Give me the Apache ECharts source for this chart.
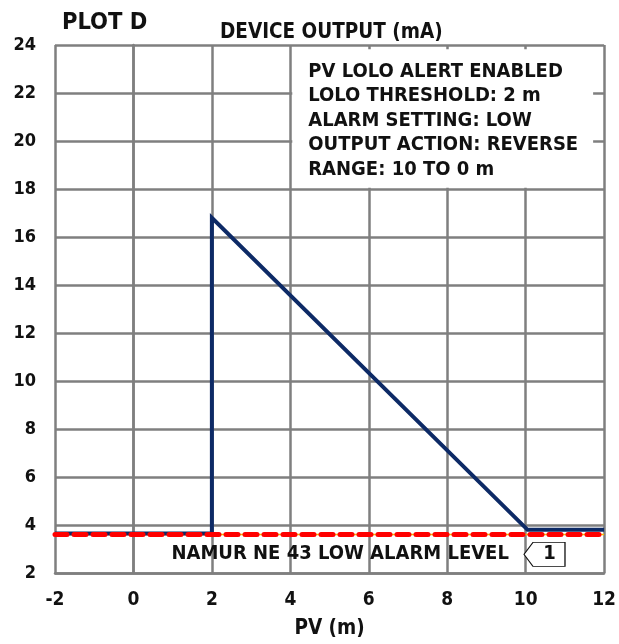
<!DOCTYPE html>
<html>
<head>
<meta charset="utf-8">
<style>html,body{margin:0;padding:0;background:#fff;}#chart{width:619px;height:644px;}</style>
<script src="https://cdn.jsdelivr.net/npm/echarts@6/dist/echarts.min.js"></script>
</head>
<body>
<div id="chart"></div>
<script>
// ---- data ----
const pvValues = [-2, 2, 2, 10.05, 12];
const outputValues = [3.65, 3.65, 16.8, 3.8, 3.8];
const namurX = [-2, 12];
const namurY = [3.6, 3.6];
const xTicks = [-2, 0, 2, 4, 6, 8, 10, 12];
const yTicks = [2, 4, 6, 8, 10, 12, 14, 16, 18, 20, 22, 24];
const infoLines = ['PV LOLO ALERT ENABLED', 'LOLO THRESHOLD: 2 m', 'ALARM SETTING: LOW', 'OUTPUT ACTION: REVERSE', 'RANGE: 10 TO 0 m'];
const infoBox = [[4.05, 18.05], [11.72, 23.82]];
const infoTextPos = [4.47, 23.38];
const namurLabel = 'NAMUR NE 43 LOW ALARM LEVEL';
const namurLabelPos = [5.27, 2.78];
const calloutPos = [10.48, 2.78];

const FONT = "'Liberation Sans Narrow', 'DejaVu Sans Condensed', 'Liberation Sans', sans-serif";
const GRID = '#7f7f7f';

const chart = echarts.init(document.getElementById('chart'));
chart.setOption({
  animation: false,
  backgroundColor: '#fff',
  textStyle: { fontFamily: FONT },
  title: [
    { text: 'PLOT D', left: 57, top: 6, textStyle: { fontFamily: FONT, fontWeight: 'bold', fontSize: 23.5, color: '#111' } },
    { text: 'DEVICE OUTPUT (mA)', left: 215, top: 17, textStyle: { fontFamily: FONT, fontWeight: 'bold', fontSize: 20.5, color: '#111' } }
  ],
  grid: { left: 55, right: 11, top: 45, bottom: 63 },
  xAxis: {
    type: 'value', min: xTicks[0], max: xTicks[xTicks.length - 1], interval: 2,
    name: 'PV (m)', nameLocation: 'middle', nameGap: 45,
    nameTextStyle: { fontFamily: FONT, fontWeight: 'bold', fontSize: 20.5, color: '#111' },
    axisLine: { show: true, lineStyle: { color: GRID, width: 2.5 } },
    axisTick: { show: false },
    axisLabel: { margin: 18, fontFamily: FONT, fontWeight: 'bold', fontSize: 19, color: '#111' },
    splitLine: { show: true, lineStyle: { color: GRID, width: 2.5 } }
  },
  yAxis: {
    type: 'value', min: yTicks[0], max: yTicks[yTicks.length - 1], interval: 2,
    axisLine: { show: true, lineStyle: { color: GRID, width: 2.5 } },
    axisTick: { show: false },
    axisLabel: { margin: 19, fontFamily: FONT, fontWeight: 'bold', fontSize: 18, color: '#111' },
    splitLine: { show: true, lineStyle: { color: GRID, width: 2.5 } }
  },
  series: [
    {
      type: 'line', name: 'box', data: [[infoTextPos[0], infoTextPos[1]]], silent: true,
      symbol: 'none', lineStyle: { width: 0 }, z: 2,
      markArea: {
        silent: true,
        itemStyle: { color: '#fff', borderWidth: 0 },
        data: [[{ coord: infoBox[0] }, { coord: infoBox[1] }]]
      },
      markPoint: {
        silent: true,
        data: [{
          coord: infoTextPos, symbol: 'rect', symbolSize: 1, itemStyle: { color: 'rgba(0,0,0,0)' },
          label: {
            show: true, position: [0, 0], align: 'left', verticalAlign: 'top',
            formatter: infoLines.join('\n'), lineHeight: 24.5,
            fontFamily: FONT, fontWeight: 'bold', fontSize: 20, color: '#111'
          }
        }]
      }
    },
    {
      type: 'line', name: 'yellow', data: namurX.map((x, i) => [x, namurY[i]]),
      symbol: 'none', z: 3, lineStyle: { color: '#f5b700', width: 1.5 }
    },
    {
      type: 'line', name: 'output', data: pvValues.map((x, i) => [x, outputValues[i]]),
      symbol: 'none', z: 4, lineStyle: { color: '#0d2a66', width: 4, join: 'miter' }
    },
    {
      type: 'line', name: 'namur', data: namurX.map((x, i) => [x, namurY[i]]),
      symbol: 'none', z: 5,
      lineStyle: { color: '#ff0000', width: 5, type: [12, 7], cap: 'round' },
      markPoint: {
        silent: true,
        data: [
          {
            coord: namurLabelPos, symbol: 'rect', symbolSize: 1, itemStyle: { color: 'rgba(0,0,0,0)' },
            label: { show: true, position: 'inside', formatter: namurLabel, fontFamily: FONT, fontWeight: 'bold', fontSize: 20, color: '#111' }
          },
          {
            coord: calloutPos, symbol: 'path://M0,12 L9,0 L41,0 L41,24 L9,24 Z', symbolSize: [41, 24],
            symbolKeepAspect: false,
            itemStyle: { color: '#fff', borderColor: '#111', borderWidth: 1 },
            label: { show: true, position: 'inside', offset: [5, 0], formatter: '1', fontFamily: FONT, fontWeight: 'bold', fontSize: 20, color: '#111' }
          }
        ]
      }
    }
  ]
});
</script>
</body>
</html>
